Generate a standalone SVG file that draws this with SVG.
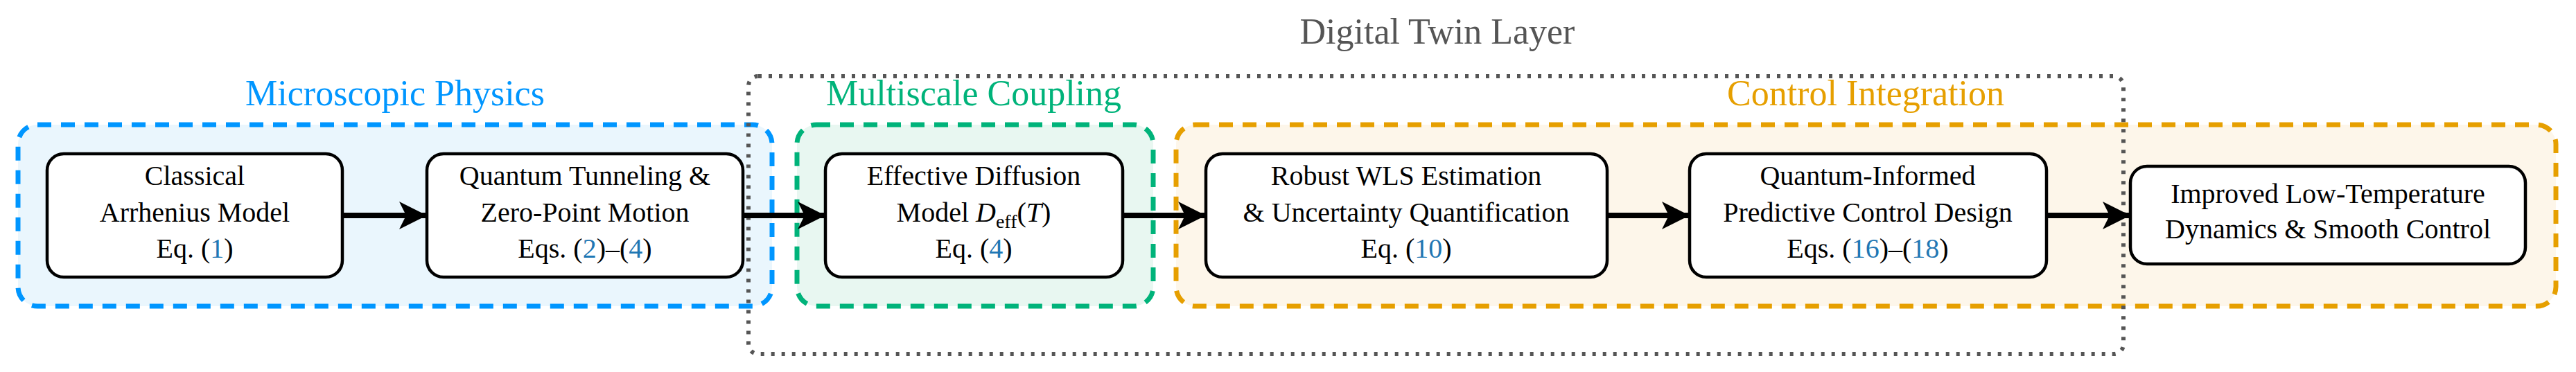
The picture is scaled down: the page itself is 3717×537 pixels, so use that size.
<svg xmlns="http://www.w3.org/2000/svg" width="3717" height="537" viewBox="0 0 3717 537" font-family="'Liberation Serif', 'DejaVu Serif', serif">
<style>
text{font-family:'Liberation Serif','DejaVu Serif',serif;}
.nt{font-size:40px;fill:#000;text-anchor:middle;}
.gt{font-size:52px;text-anchor:middle;}
.ref{fill:#1f77b4;}
.node{fill:#fff;stroke:#000;stroke-width:4.5;}
.grp{stroke-width:7;stroke-dasharray:20 14;}
.conn{stroke:#000;stroke-width:8;fill:none;marker-end:url(#ah);}
</style>
<defs>
<marker id="ah" viewBox="0 0 10 10" refX="10" refY="5" markerWidth="6" markerHeight="5" markerUnits="strokeWidth" orient="auto">
<path d="M0,0 L10,5 L0,10 L2.5,5 Z" fill="#000"/>
</marker>
</defs>
<g id="group-micro">
<rect x="26" y="180" width="1088" height="262" rx="28" fill="#eaf6fd" stroke="#0096ff" class="grp"/>
<text class="gt" x="570" y="152" fill="#0096ff">Microscopic Physics</text>
</g>
<g id="group-multiscale">
<rect x="1150" y="180" width="514" height="262" rx="28" fill="#e8f7f1" stroke="#00b37a" class="grp"/>
<text class="gt" x="1405" y="152" fill="#00b37a">Multiscale Coupling</text>
</g>
<g id="group-control">
<rect x="1697" y="180" width="1991" height="262" rx="28" fill="#fdf6ea" stroke="#e69f00" class="grp"/>
<text class="gt" x="2692" y="152" fill="#e69f00">Control Integration</text>
</g>
<g id="group-digital-twin">
<rect x="1080" y="110" width="1984" height="401" rx="14" fill="none" stroke="#555" stroke-width="6" stroke-dasharray="5 10"/>
<text class="gt" x="2074" y="63" fill="#555">Digital Twin Layer</text>
</g>
<g id="connectors">
<line class="conn" x1="494" y1="311" x2="616" y2="311"/>
<line class="conn" x1="1072" y1="311" x2="1191" y2="311"/>
<line class="conn" x1="1620" y1="311" x2="1740" y2="311"/>
<line class="conn" x1="2319" y1="311" x2="2438" y2="311"/>
<line class="conn" x1="2953" y1="311" x2="3074" y2="311"/>
</g>
<g id="n1">
<rect class="node" x="68" y="222" width="426" height="178" rx="24"/>
<text class="nt" x="281" y="267">Classical</text>
<text class="nt" x="281" y="320">Arrhenius Model</text>
<text class="nt" x="281" y="372">Eq. (<tspan class="ref">1</tspan>)</text>
</g>
<g id="n2">
<rect class="node" x="616" y="222" width="456" height="178" rx="24"/>
<text class="nt" x="844" y="267">Quantum Tunneling &amp;</text>
<text class="nt" x="844" y="320">Zero-Point Motion</text>
<text class="nt" x="844" y="372">Eqs. (<tspan class="ref">2</tspan>)–(<tspan class="ref">4</tspan>)</text>
</g>
<g id="n3">
<rect class="node" x="1191" y="222" width="429" height="178" rx="24"/>
<text class="nt" x="1405" y="267">Effective Diffusion</text>
<text class="nt" x="1405" y="320">Model <tspan font-style="italic">D</tspan><tspan font-size="28" dy="9">eff</tspan><tspan dy="-9">(</tspan><tspan font-style="italic">T</tspan>)</text>
<text class="nt" x="1405" y="372">Eq. (<tspan class="ref">4</tspan>)</text>
</g>
<g id="n4">
<rect class="node" x="1740" y="222" width="579" height="178" rx="24"/>
<text class="nt" x="2029" y="267">Robust WLS Estimation</text>
<text class="nt" x="2029" y="320">&amp; Uncertainty Quantification</text>
<text class="nt" x="2029" y="372">Eq. (<tspan class="ref">10</tspan>)</text>
</g>
<g id="n5">
<rect class="node" x="2438" y="222" width="515" height="178" rx="24"/>
<text class="nt" x="2695" y="267">Quantum-Informed</text>
<text class="nt" x="2695" y="320">Predictive Control Design</text>
<text class="nt" x="2695" y="372">Eqs. (<tspan class="ref">16</tspan>)–(<tspan class="ref">18</tspan>)</text>
</g>
<g id="n6">
<rect class="node" x="3074" y="240" width="570" height="141" rx="24"/>
<text class="nt" x="3359" y="293">Improved Low-Temperature</text>
<text class="nt" x="3359" y="344">Dynamics &amp; Smooth Control</text>
</g>
</svg>
